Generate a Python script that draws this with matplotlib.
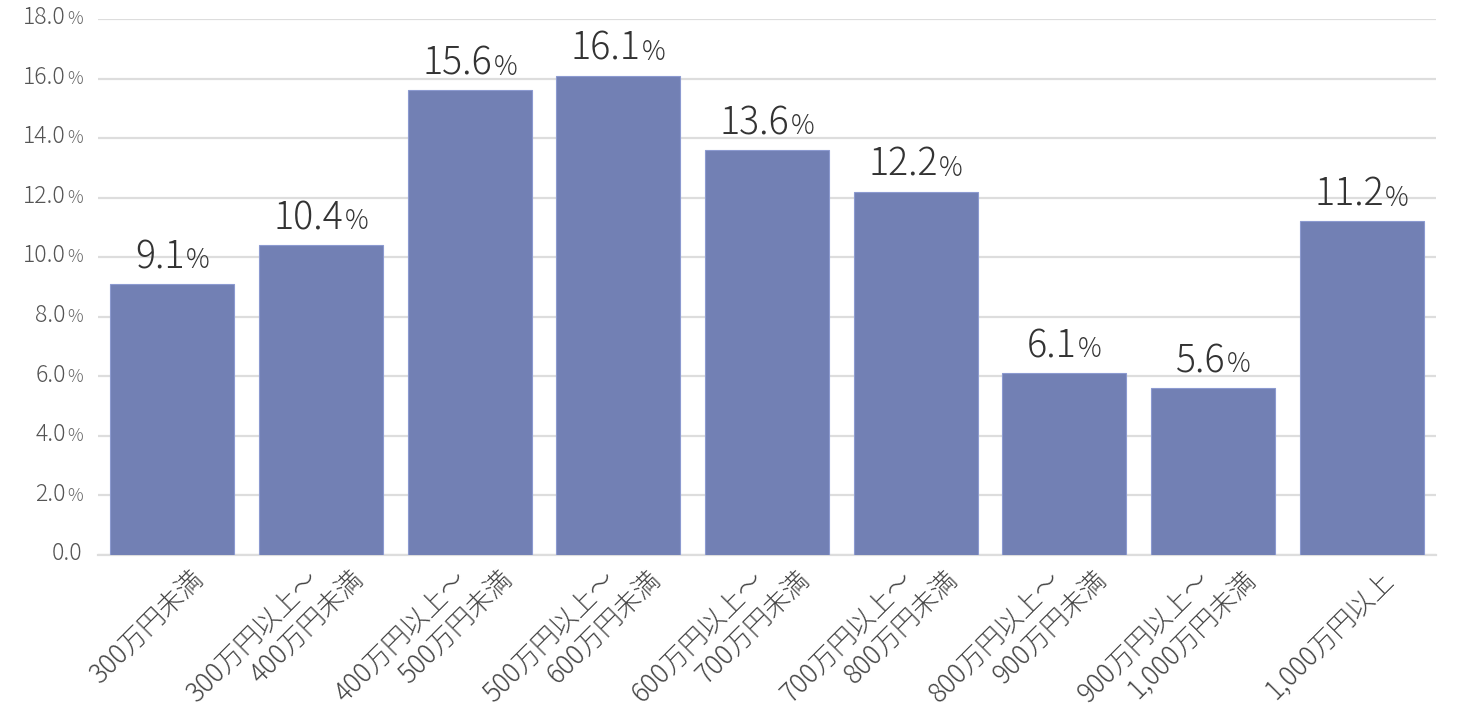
import matplotlib
matplotlib.use("Agg")
import matplotlib.pyplot as plt
from matplotlib.offsetbox import TextArea, HPacker, AnnotationBbox
from matplotlib.transforms import ScaledTranslation

plt.rcParams['font.family'] = ['Noto Sans CJK JP', 'DejaVu Sans']

categories = [
    "300万円未満",
    "300万円以上～\n400万円未満",
    "400万円以上～\n500万円未満",
    "500万円以上～\n600万円未満",
    "600万円以上～\n700万円未満",
    "700万円以上～\n800万円未満",
    "800万円以上～\n900万円未満",
    "900万円以上～\n1,000万円未満",
    "1,000万円以上",
]
values = [9.1, 10.4, 15.6, 16.1, 13.6, 12.2, 6.1, 5.6, 11.2]
yticks = [0, 2, 4, 6, 8, 10, 12, 14, 16, 18]

BAR = "#7280b4"
GRID = "#dddddd"

fig = plt.figure(figsize=(14.6, 7.1), dpi=100)
ax = fig.add_axes([98/1460, 1-555/710, (1436-98)/1460, (555-19)/710])

x = list(range(len(values)))
ax.bar(x, values, width=0.835, color=BAR, edgecolor="#8c9ad0", linewidth=0.8, zorder=3)
ax.set_xlim(-0.5, len(values) - 0.5)
ax.set_ylim(0, 18)
ax.set_yticks(yticks)
ax.set_yticklabels([])
ax.set_xticks(x)
ax.set_xticklabels([])
ax.tick_params(axis='both', length=0)
ax.grid(axis='y', color=GRID, linewidth=1.6, zorder=0)
for s in ['top', 'right', 'left']:
    ax.spines[s].set_visible(False)
ax.spines['bottom'].set_color(GRID)
ax.spines['bottom'].set_linewidth(1.6)

# y tick labels with smaller %
ytrans = ax.get_yaxis_transform()
for t in yticks:
    parts = [TextArea(f"{t:.1f}", textprops=dict(fontsize=16.5, color="#555555", fontweight='light'))]
    if t != 0:
        parts.append(TextArea("%", textprops=dict(fontsize=12.5, color="#666666", fontweight='light')))
    box = HPacker(children=parts, align="baseline", pad=0, sep=1)
    ab = AnnotationBbox(box, (0, t), xycoords=ytrans, xybox=(-11, 0),
                        boxcoords="offset points", box_alignment=(1, 0.45),
                        frameon=False, annotation_clip=False)
    ax.add_artist(ab)

# data labels
for xi, v in zip(x, values):
    box = HPacker(children=[TextArea(f"{v:.1f}", textprops=dict(fontsize=27, color="#333333", fontweight='light')),
                            TextArea("%", textprops=dict(fontsize=19, color="#333333", fontweight='light'))],
                  align="baseline", pad=0, sep=1)
    ab = AnnotationBbox(box, (xi, v), xycoords='data', xybox=(0, 5),
                        boxcoords="offset points", box_alignment=(0.5, 0),
                        frameon=False, annotation_clip=False, zorder=4)
    ax.add_artist(ab)

# x labels, rotated, multi-line offset horizontally
xtrans = ax.get_xaxis_transform()
for xi, lab in zip(x, categories):
    lines = lab.split("\n")
    if len(lines) == 1:
        offs = [17]
    else:
        offs = [-17, 29]
    for line, dx in zip(lines, offs):
        tr = xtrans + ScaledTranslation(dx/100, -10/100, fig.dpi_scale_trans)
        ax.text(xi, 0, line, transform=tr, rotation=45, rotation_mode='anchor',
                ha='right', va='top', fontsize=19, color="#444444", fontweight='light')

fig.savefig("out.png", dpi=100)
